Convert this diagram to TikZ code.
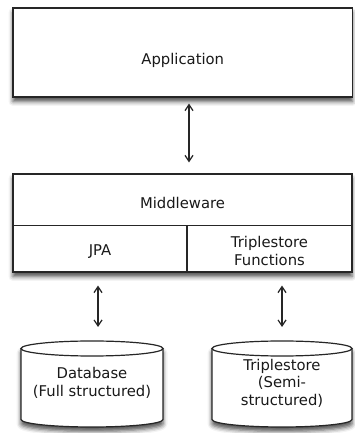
\documentclass[tikz,border=0pt]{standalone}
\usepackage{fontspec}
\setmainfont{DejaVu Sans}
\usetikzlibrary{arrows.meta,shadows.blur}
\begin{document}
\begin{tikzpicture}[x=1pt,y=1pt,
  line width=1.2pt,
  box/.style={draw=black!85, fill=white, inner sep=0pt},
  shd/.style={blur shadow={shadow xshift=0pt,shadow yshift=-4.5pt,shadow blur radius=4.5pt,shadow opacity=70}},
  lbl/.style={font=\fontsize{14.8}{17.5}\selectfont, text=black!90, align=center, inner sep=0pt},
  cylline/.style={draw=black!85, line width=1.2pt},
  arr/.style={{Straight Barb[length=6pt,width=8pt]}-{Straight Barb[length=6pt,width=8pt]}, line width=1.2pt, draw=black!85}]
\useasboundingbox (0,0) rectangle (354,433);

% Application
\node[box,shd,minimum width=339.5pt,minimum height=89pt] (app) at (182.75,380.5) {};
\node[lbl] (applbl) at (182.75,372.5) {Application};

% Middleware block
\node[box,shd,draw=none,minimum width=339pt,minimum height=98pt] (mwall) at (182.5,210) {};
\node[box,minimum width=339pt,minimum height=51.5pt] (mw) at (182.5,233.25) {};
\node[box,minimum width=174pt,minimum height=46.5pt] (jpa) at (100,184.25) {};
\node[box,minimum width=165pt,minimum height=46.5pt] (tf) at (269.5,184.25) {};
\node[lbl] (mwlbl) at (182.5,230.5) {Middleware};
\node[lbl] (jpalbl) at (100,181) {JPA};
\node[lbl] (tflbl) at (269.5,182) {Triplestore\\Functions};

% Cylinders
\path[shd,fill=white] (21,84.5) -- (21,13.5) arc[start angle=180,end angle=360,x radius=71pt,y radius=7.5pt] -- (163,84.5) arc[start angle=0,end angle=180,x radius=71pt,y radius=7.5pt] -- cycle;
\draw[cylline] (21,84.5) -- (21,13.5) arc[start angle=180,end angle=360,x radius=71pt,y radius=7.5pt] -- (163,84.5);
\draw[cylline] (92,84.5) ellipse[x radius=71pt,y radius=7.5pt];
\coordinate (dbtop) at (92,92);
\node[lbl] (db) at (92,50) {Database\\(Full structured)};

\path[shd,fill=white] (212,84.5) -- (212,13.5) arc[start angle=180,end angle=360,x radius=70pt,y radius=7.5pt] -- (352,84.5) arc[start angle=0,end angle=180,x radius=70pt,y radius=7.5pt] -- cycle;
\draw[cylline] (212,84.5) -- (212,13.5) arc[start angle=180,end angle=360,x radius=70pt,y radius=7.5pt] -- (352,84.5);
\draw[cylline] (282,84.5) ellipse[x radius=70pt,y radius=7.5pt];
\coordinate (tstop) at (282,92);
\node[lbl] (ts) at (282,50) {Triplestore\\(Semi-\\structured)};

% Arrows
\draw[arr] ([xshift=6.25pt,yshift=-6pt]app.south) -- ([xshift=6.5pt,yshift=11pt]mw.north);
\draw[arr] ([xshift=-2pt,yshift=-13pt]jpa.south) -- ([xshift=6pt,yshift=14pt]dbtop);
\draw[arr] ([xshift=12.5pt,yshift=-13pt]tf.south) -- ([yshift=14pt]tstop);
\end{tikzpicture}
\end{document}
